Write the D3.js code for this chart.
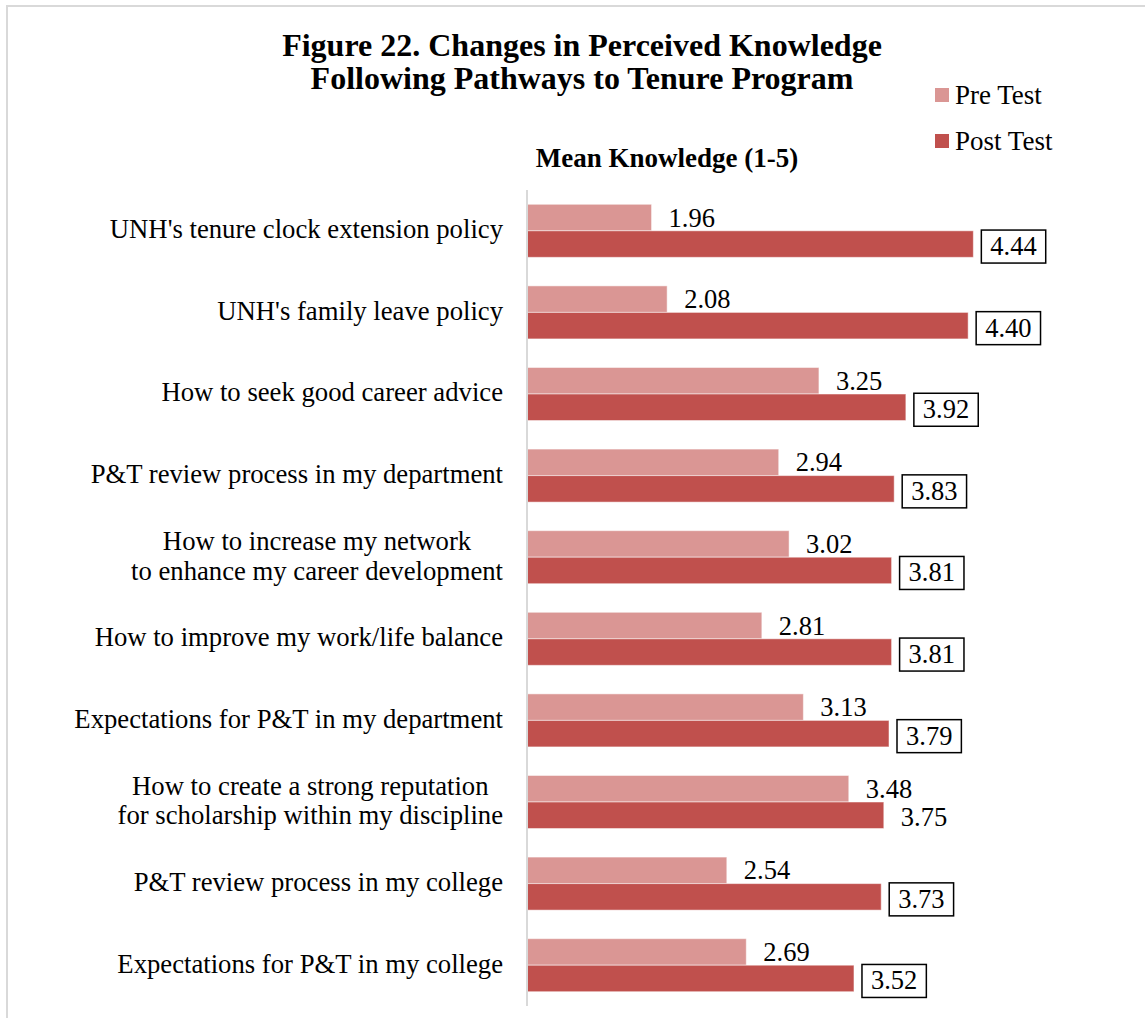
<!DOCTYPE html>
<html>
<head>
<meta charset="utf-8">
<script src="https://cdn.jsdelivr.net/npm/d3@7"></script>
<style>
  html, body { margin: 0; padding: 0; background: #fff; }
  svg { display: block; }
  svg text { font-family: "Liberation Serif", Tinos, "Times New Roman", Times, "DejaVu Serif", serif; }
</style>
</head>
<body>
<svg id="chart" width="1145" height="1018"></svg>
<script>
// Survey items (multi-line labels split with "\n")
const categories = [
  "UNH's tenure clock extension policy",
  "UNH's family leave policy",
  "How to seek good career advice",
  "P&T review process in my department",
  "How to increase my network\nto enhance my career development",
  "How to improve my work/life balance",
  "Expectations for P&T in my department",
  "How to create a strong reputation\nfor scholarship within my discipline",
  "P&T review process in my college",
  "Expectations for P&T in my college"
];
const preTest  = [1.96, 2.08, 3.25, 2.94, 3.02, 2.81, 3.13, 3.48, 2.54, 2.69];
const postTest = [4.44, 4.40, 3.92, 3.83, 3.81, 3.81, 3.79, 3.75, 3.73, 3.52];
// Post-test labels drawn inside a framed box
const postBoxed = [true, true, true, true, true, true, true, false, true, true];
const seriesNames = ["Pre Test", "Post Test"];
const seriesColors = ["#DA9694", "#C0504D"];
const titleLines = ["Figure 22. Changes in Perceived Knowledge", "Following Pathways to Tenure Program"];
const axisTitle = "Mean Knowledge (1-5)";

const svg = d3.select("#chart");

// outer frame (top and left edges)
svg.append("path")
  .attr("d", "M7,1018 V6 H1145")
  .attr("fill", "none").attr("stroke", "#d9d9d9").attr("stroke-width", 2);

const x = d3.scaleLinear().domain([1, 5]).range([527, 1046]);
const y = d3.scaleBand().domain(d3.range(categories.length))
  .range([190, 1006]).paddingInner(0.35).paddingOuter(0.175);
const ySeries = d3.scaleBand().domain([0, 1]).range([0, y.bandwidth()]);

// title
svg.append("text")
  .attr("x", 582).attr("y", 56)
  .attr("text-anchor", "middle")
  .attr("font-weight", "bold").attr("font-size", 32)
  .selectAll("tspan").data(titleLines).join("tspan")
  .attr("x", 582).attr("dy", (d, i) => i === 0 ? 0 : 33)
  .text(d => d);

// axis title
svg.append("text")
  .attr("x", 667).attr("y", 167)
  .attr("text-anchor", "middle")
  .attr("font-weight", "bold").attr("font-size", 27)
  .text(axisTitle);

// legend
const legend = svg.append("g");
seriesNames.forEach((name, i) => {
  const ly = 95 + i * 46;
  legend.append("rect").attr("x", 935).attr("y", ly - 7).attr("width", 14).attr("height", 14)
    .attr("fill", seriesColors[i]);
  legend.append("text").attr("x", 955).attr("y", ly + 9).attr("font-size", 27).text(name);
});

// bars
const rows = svg.append("g").selectAll("g").data(categories).join("g")
  .attr("transform", (d, i) => `translate(0,${y(i)})`);

[preTest, postTest].forEach((vals, s) => {
  rows.append("rect")
    .attr("x", x(1))
    .attr("y", ySeries(s))
    .attr("width", (d, i) => x(vals[i]) - x(1))
    .attr("height", ySeries.bandwidth())
    .attr("fill", seriesColors[s])
    .attr("stroke", "rgba(255,255,255,0.5)")
    .attr("stroke-width", 1);
});

// value axis line
svg.append("line")
  .attr("x1", x(1)).attr("x2", x(1))
  .attr("y1", y.range()[0]).attr("y2", y.range()[1])
  .attr("stroke", "#d9d9d9").attr("stroke-width", 2);

// pre-test value labels
rows.append("text")
  .attr("x", (d, i) => x(preTest[i]) + 17)
  .attr("y", ySeries(0) + ySeries.bandwidth() / 2 + 9)
  .attr("font-size", 26.5)
  .text((d, i) => preTest[i].toFixed(2));

// post-test value labels (with frames)
rows.each(function (d, i) {
  const g = d3.select(this);
  const t = g.append("text")
    .attr("x", x(postTest[i]) + 17)
    .attr("y", ySeries(1) + ySeries.bandwidth() / 2 + 11)
    .attr("font-size", 26.5)
    .text(postTest[i].toFixed(2));
  if (postBoxed[i]) {
    const bb = t.node().getBBox();
    g.insert("rect", "text")
      .attr("x", bb.x - 9).attr("y", bb.y - 1)
      .attr("width", bb.width + 18).attr("height", bb.height + 3)
      .attr("fill", "#fff").attr("stroke", "#000").attr("stroke-width", 1.5);
  }
});

// category labels, right aligned block with centered lines
rows.each(function (d, i) {
  const g = d3.select(this);
  const lines = d.split("\n");
  const cy = y.bandwidth() / 2;
  const lh = 30;
  const t = g.append("text").attr("font-size", 26.7).attr("text-anchor", "middle");
  const spans = t.selectAll("tspan").data(lines).join("tspan")
    .attr("y", (l, j) => cy + 7.5 + (j - (lines.length - 1) / 2) * lh)
    .text(l => l);
  let maxW = 0;
  spans.each(function () { maxW = Math.max(maxW, this.getComputedTextLength()); });
  spans.attr("x", 503 - maxW / 2);
});
</script>
</body>
</html>
